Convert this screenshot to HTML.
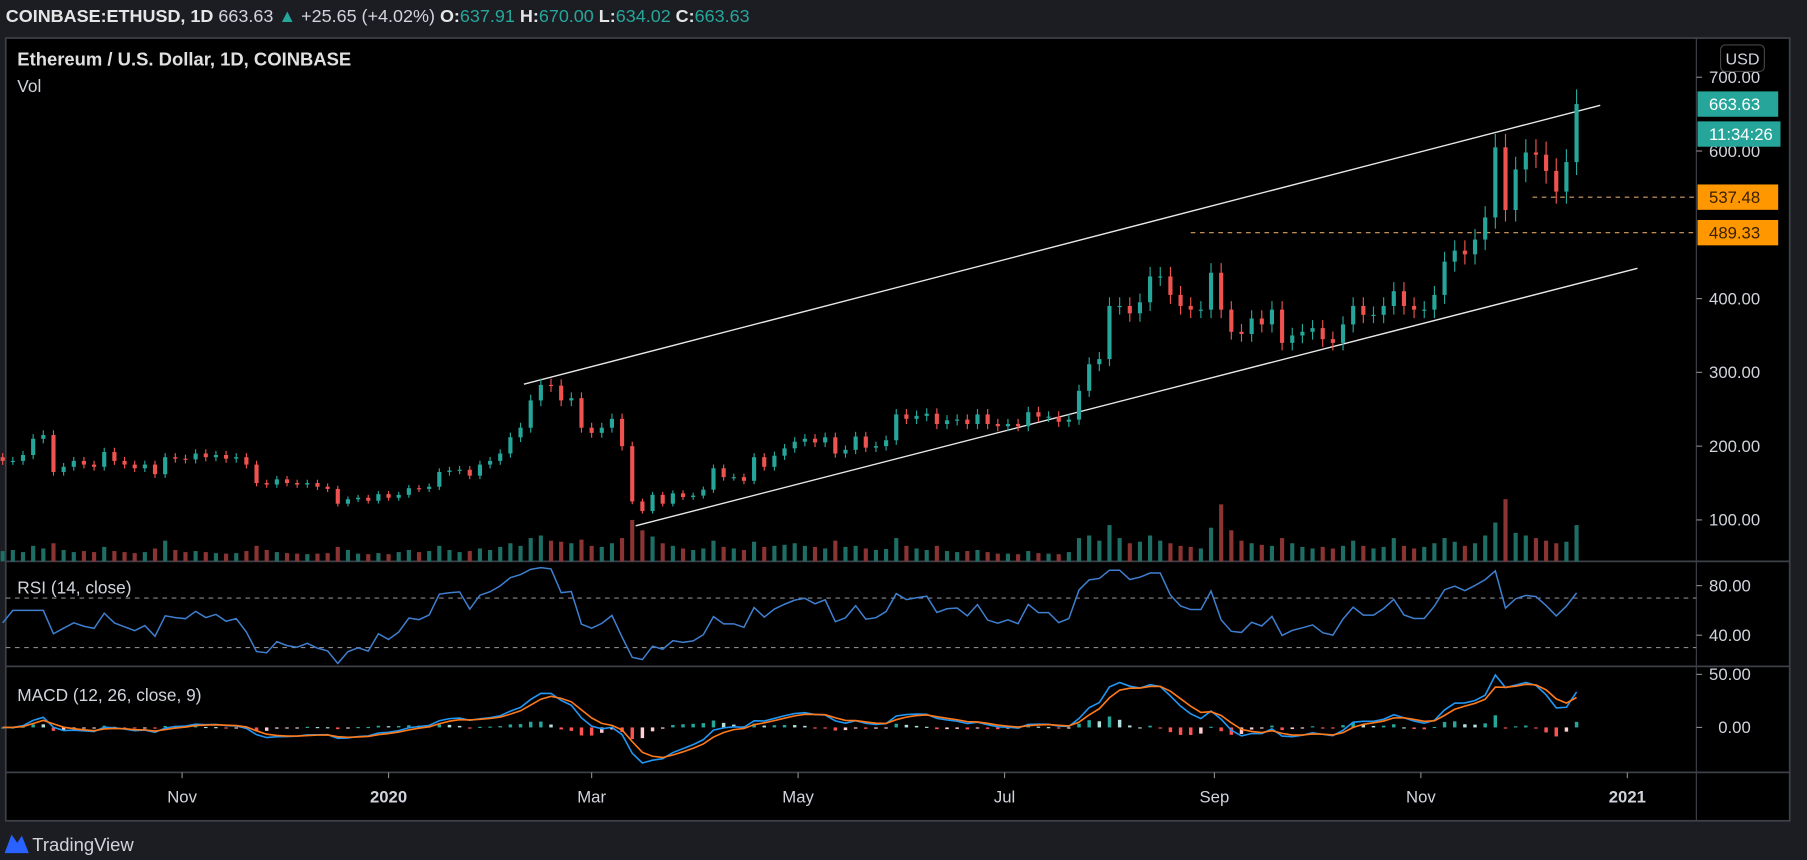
<!DOCTYPE html>
<html><head><meta charset="utf-8"><style>
html,body{margin:0;padding:0;background:#000;overflow:hidden}
svg{display:block}
text{font-family:"Liberation Sans",sans-serif}
</style></head><body>
<svg id="chart" width="1807" height="860" viewBox="0 0 1568 746" preserveAspectRatio="none" xmlns="http://www.w3.org/2000/svg">
<rect x="0" y="0" width="1568" height="746" fill="#1b1d23"/>
<rect x="5" y="33" width="1548" height="679" fill="#000" stroke="#3d4048" stroke-width="1.5"/>
<line x1="1472" y1="33" x2="1472" y2="712" stroke="#3d4048"/>
<line x1="5" y1="487" x2="1553" y2="487" stroke="#3d4048" stroke-width="1.5"/>
<line x1="5" y1="578" x2="1553" y2="578" stroke="#3d4048" stroke-width="1.5"/>
<line x1="5" y1="670" x2="1553" y2="670" stroke="#3d4048" stroke-width="1.5"/>
<text x="5" y="19" font-size="15.6" fill="#e6e6e6"><tspan font-weight="bold">COINBASE:ETHUSD, 1D</tspan><tspan fill="#d1d4dc"> 663.63 </tspan><tspan fill="#26a69a">▲</tspan><tspan fill="#d1d4dc"> +25.65 (+4.02%) </tspan><tspan font-weight="bold">O:</tspan><tspan fill="#26a69a">637.91 </tspan><tspan font-weight="bold">H:</tspan><tspan fill="#26a69a">670.00 </tspan><tspan font-weight="bold">L:</tspan><tspan fill="#26a69a">634.02 </tspan><tspan font-weight="bold">C:</tspan><tspan fill="#26a69a">663.63</tspan></text>
<text x="15" y="57" font-size="16" fill="#e0e0e0" font-weight="bold">Ethereum / U.S. Dollar, 1D, COINBASE</text>
<text x="15" y="80" font-size="15" fill="#d1d4dc">Vol</text>
<text x="15" y="515" font-size="15" fill="#d1d4dc">RSI (14, close)</text>
<text x="15" y="608" font-size="15" fill="#d1d4dc">MACD (12, 26, close, 9)</text>
<g id="plot"></g>
<g id="axes"></g>
<rect x="1493" y="39" width="38" height="23" rx="4" fill="#000" stroke="#444"/>
<text x="1512" y="56" font-size="14" fill="#d1d4dc" text-anchor="middle">USD</text>
<g>
<path d="M4 740 L10 724 L15 731 L19 725 L25 740 Z" fill="#2962ff"/>
<text x="28" y="738" font-size="16" fill="#d1d4dc">TradingView</text>
</g>
</svg>
<script>
const closes=[180,180,188,210,215,165,172,180,175,172,192,180,175,170,175,162,185,183,182,190,185,188,183,185,175,150,148,155,150,148,150,145,142,122,128,130,126,135,130,134,143,142,145,165,167,168,160,175,180,190,212,225,262,283,282,262,265,225,218,225,237,200,125,112,134,122,136,131,133,141,170,158,158,153,185,172,187,197,206,210,205,212,190,195,213,198,200,208,243,237,241,244,230,235,236,230,243,230,227,230,227,246,240,240,233,236,275,311,318,390,390,380,395,430,430,405,390,385,385,435,385,355,352,373,365,385,340,350,355,360,345,340,365,390,378,378,390,410,390,385,385,405,450,465,460,480,510,605,520,575,598,595,573,545,585,663.63];
const volumes=[20,22,18,30,25,35,22,18,20,18,28,20,18,16,18,25,40,22,18,20,18,16,15,16,20,30,22,18,16,15,14,15,16,28,22,15,14,16,14,18,22,18,20,30,22,18,20,25,22,28,35,30,45,50,40,38,35,42,30,28,35,45,80,60,48,35,30,25,22,25,40,28,25,22,38,28,30,32,35,30,28,25,40,28,30,25,22,24,45,30,25,22,30,20,18,20,22,18,15,15,14,20,16,15,14,18,45,50,40,70,45,35,38,50,40,35,30,28,25,65,110,60,40,35,32,30,45,35,28,25,28,25,30,40,30,25,28,45,30,25,28,35,45,38,30,35,50,75,120,55,50,45,40,35,38,70];
const priceTicks=[700,600,400,300,200,100];
const rsiTicks=[80,40];
const macdTicks=[50,0];
const timeLabels=["Nov","2020","Mar","May","Jul","Sep","Nov","2021"];
const timeDays=[0,61,121,182,243,305,366,427];
const upperChannelDays=[101,419];
const upperChannelPrices=[284,662];
const lowerChannelDays=[134,430];
const lowerChannelPrices=[92,441];
const levels=[537.48,489.33];
const levelStartDays=[399,298];

const START_DAY=-53, STEP=3;
const NS="http://www.w3.org/2000/svg";
const xD=d=>158+d*2.937;
const yP=p=>451-(p-100)*0.64;
const yV=v=>487-v*0.45;
const yR=r=>551-(r-40)*1.075;
const yM=m=>631-m*0.92;
const plot=document.getElementById('plot');
const axes=document.getElementById('axes');
function mk(tag,attrs,parent){const e=document.createElementNS(NS,tag);for(const k in attrs)e.setAttribute(k,attrs[k]);(parent||plot).appendChild(e);return e;}
const dayOf=i=>START_DAY+i*STEP;

volumes.forEach((v,i)=>{
  const up=i===0||closes[i]>=closes[i-1];
  const e=mk('rect',{x:xD(dayOf(i))-1.8,y:yV(v),width:3.6,height:487-yV(v),fill:up?'#1e6e66':'#8a3433'});
  
  
});
[[upperChannelDays,upperChannelPrices,'upper-channel-line'],[lowerChannelDays,lowerChannelPrices,'lower-channel-line']].forEach(([d,p,n])=>{
  const e=mk('line',{x1:xD(d[0]),y1:yP(p[0]),x2:xD(d[1]),y2:yP(p[1]),stroke:'#e8e8e8','stroke-width':1.2});
  
  
});
levels.forEach((l,i)=>{
  const e=mk('line',{x1:xD(levelStartDays[i]),y1:yP(l),x2:1472,y2:yP(l),stroke:'#d9a066','stroke-width':1,'stroke-dasharray':'4 4'});
  
  
});
closes.forEach((c,i)=>{
  const o=i===0?185:closes[i-1];
  const up=c>=o, col=up?'#26a69a':'#ef5350';
  const x=xD(dayOf(i));
  const hi=Math.max(o,c)*1.03, lo=Math.min(o,c)*0.97;
  const w=mk('line',{x1:x,x2:x,y1:yP(hi),y2:yP(lo),stroke:col,'stroke-width':1});
  
  
  const b=mk('rect',{x:x-1.8,y:yP(Math.max(o,c)),width:3.6,height:Math.max(1,Math.abs(yP(o)-yP(c))),fill:col});
  
  
});
const rsiP=7;let ag=0,al=0;const rsi=[];
for(let i=0;i<closes.length;i++){
  if(i===0){rsi.push(50);continue;}
  const ch=closes[i]-closes[i-1],g=Math.max(ch,0),l=Math.max(-ch,0);
  if(i<=rsiP){ag+=g/rsiP;al+=l/rsiP;}else{ag=(ag*(rsiP-1)+g)/rsiP;al=(al*(rsiP-1)+l)/rsiP;}
  rsi.push(al===0?60:100-100/(1+ag/al));
}
[70,30].forEach(v=>{const e=mk('line',{x1:5,x2:1472,y1:yR(v),y2:yR(v),stroke:'#888','stroke-dasharray':'4 4'});

});
const rl=mk('polyline',{points:rsi.map((r,i)=>xD(dayOf(i))+','+yR(r)).join(' '),fill:'none',stroke:'#3f7fd0','stroke-width':1.3});


function ema(a,n){const k=2/(n+1);const o=[];a.forEach((v,i)=>o.push(i?v*k+o[i-1]*(1-k):v));return o;}
const ef=ema(closes,4),es=ema(closes,9);
const macd=ef.map((v,i)=>v-es[i]);const sig=ema(macd,3);
macd.forEach((m,i)=>{
  const h=m-sig[i];const prev=i?macd[i-1]-sig[i-1]:0;
  const col=h>=0?(h>=prev?'#26a69a':'#b2dfdb'):(h<prev?'#ff5252':'#ffcdd2');
  const e=mk('rect',{x:xD(dayOf(i))-1.5,y:Math.min(yM(0),yM(h)),width:3,height:Math.max(1,Math.abs(yM(h)-yM(0))),fill:col});
  
  
});
const ml=mk('polyline',{points:macd.map((m,i)=>xD(dayOf(i))+','+yM(m)).join(' '),fill:'none',stroke:'#2196f3','stroke-width':1.4});


const sl=mk('polyline',{points:sig.map((m,i)=>xD(dayOf(i))+','+yM(m)).join(' '),fill:'none',stroke:'#ff7a1a','stroke-width':1.4});


function label(x,y,t,name,opts){const e=mk('text',Object.assign({x:x,y:y,'font-size':14.5,fill:'#d1d4dc'},opts||{}),axes);e.textContent=t;

return e;}
priceTicks.forEach(p=>{mk('line',{x1:1472,x2:1477,y1:yP(p),y2:yP(p),stroke:'#888'},axes);label(1483,yP(p)+5,p.toFixed(2),'price-tick-label');});
rsiTicks.forEach(p=>{mk('line',{x1:1472,x2:1477,y1:yR(p),y2:yR(p),stroke:'#888'},axes);label(1483,yR(p)+5,p.toFixed(2),'rsi-tick-label');});
macdTicks.forEach(p=>{mk('line',{x1:1472,x2:1477,y1:yM(p),y2:yM(p),stroke:'#888'},axes);label(p?1483:1491,yM(p)+5,p.toFixed(2),'macd-tick-label');});
timeLabels.forEach((t,i)=>{const x=xD(timeDays[i]);mk('line',{x1:x,x2:x,y1:670,y2:675,stroke:'#888'},axes);
label(x,696,t,'time-tick-label',{'text-anchor':'middle','font-weight':/^\d/.test(t)?'bold':'normal'});});
function badge(y,t,bg,fg,w,name){const r=mk('rect',{x:1473,y:y-11,width:w,height:22,fill:bg},axes);


label(1483,y+5,t,name+'-text',{fill:fg});}
const last=closes[closes.length-1];
badge(yP(last),last.toFixed(2),'#26a69a','#fff',70,'last-price-badge');
badge(yP(last)+26,'11:34:26','#26a69a','#fff',72,'countdown-badge');
levels.forEach(l=>badge(yP(l),l.toFixed(2),'#ff9800','#3a2000',70,'level-badge'));
</script>
</body></html>
